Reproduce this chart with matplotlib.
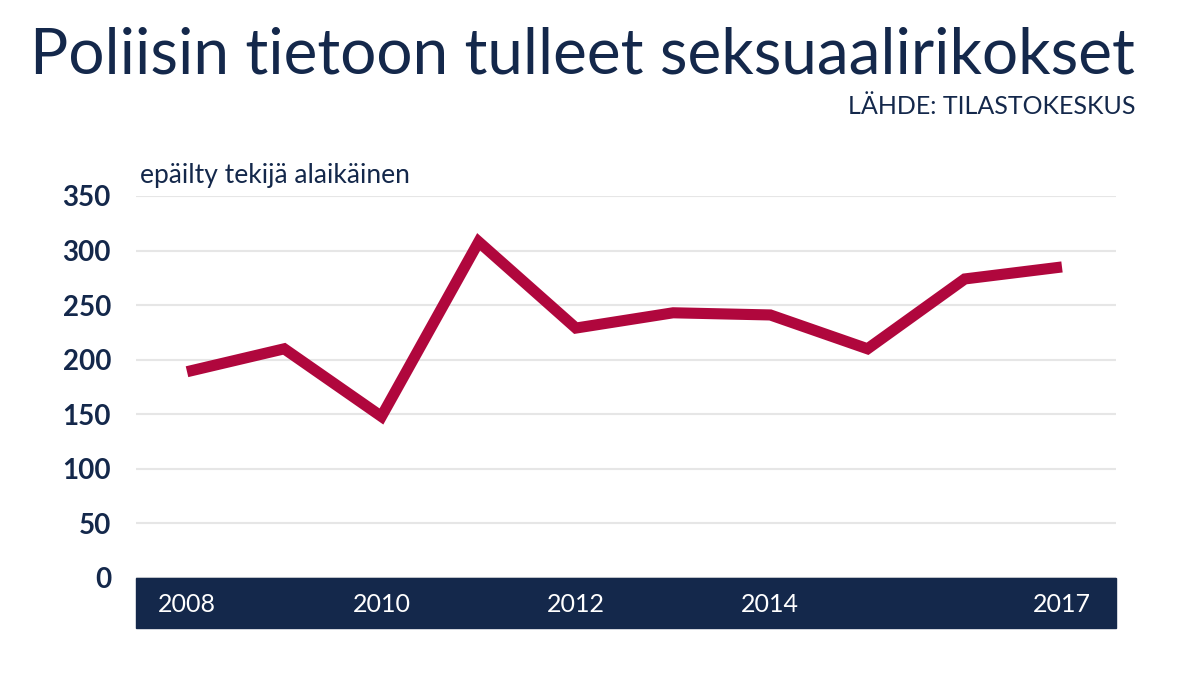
import matplotlib
matplotlib.use("Agg")
import matplotlib.pyplot as plt
from matplotlib.patches import Rectangle

years = [2008, 2009, 2010, 2011, 2012, 2013, 2014, 2015, 2016, 2017]
values = [189, 210, 148, 308, 229, 243, 241, 210, 274, 285]
tick_years = [2008, 2010, 2012, 2014, 2017]
yticks = [0, 50, 100, 150, 200, 250, 300, 350]

navy = "#14284b"
red = "#b0073d"
plt.rcParams["font.family"] = "Lato"

W, H = 1198, 674
fig = plt.figure(figsize=(W/100, H/100), dpi=100)
ax = fig.add_axes([136/W, 96/H, (1116-136)/W, (578-196)/H])
ax.plot(years, values, color=red, lw=8, solid_capstyle="butt", solid_joinstyle="miter", zorder=3)
ax.set_xlim(2008-51/97.2, 2017+54/97.2)
ax.set_ylim(0, 350)
ax.set_yticks(yticks)
ax.set_yticklabels([str(v) for v in yticks], fontsize=20, fontweight="bold", color=navy)
ax.tick_params(axis="y", length=0, pad=18)
ax.set_xticks([])
for s in ax.spines.values():
    s.set_visible(False)
ax.grid(axis="y", color="#e6e6e6", lw=1.5)
for lab in ax.get_yticklabels():
    lab.set_horizontalalignment("right")

fig.patches.append(Rectangle((136/W, (674-628)/H), (1116-136)/W, 50/H, transform=fig.transFigure, color=navy, zorder=0))
for y in tick_years:
    xf = ax.transData.transform((y, 0))[0] / W
    fig.text(xf, (674-605)/H, str(y), color="white", fontsize=18, ha="center", va="center")

fig.text(1135/W, 1-55/H, "Poliisin tietoon tulleet seksuaalirikokset", fontsize=46, color=navy, ha="right", va="center")
fig.text(1135/W, 1-106/H, "LÄHDE: TILASTOKESKUS", fontsize=18, color=navy, ha="right", va="center")
fig.text(140/W, 1-176/H, "epäilty tekijä alaikäinen", fontsize=19, color=navy, ha="left", va="center")

fig.savefig("out.png", dpi=100, facecolor="white")
